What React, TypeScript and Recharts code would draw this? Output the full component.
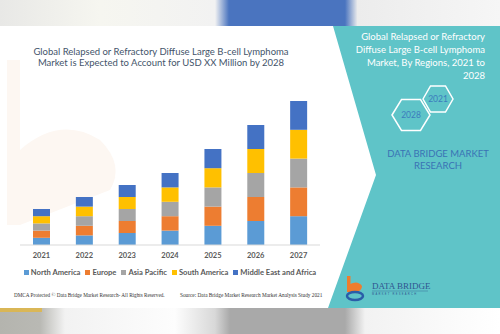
import { BarChart, Bar, XAxis, YAxis, Legend } from 'recharts'

const YEARS = ['2021', '2022', '2023', '2024', '2025', '2026', '2027']
const NORTH_AMERICA = [3, 4, 5, 6, 8, 10, 12]
const EUROPE = [3, 4, 5, 6, 8, 10, 12]
const ASIA_PACIFIC = [3, 4, 5, 6, 8, 10, 12]
const SOUTH_AMERICA = [3, 4, 5, 6, 8, 10, 12]
const MEA = [3, 4, 5, 6, 8, 10, 12]

const SERIES = [
  { key: 'na', name: 'North America', color: '#5b9bd5', values: NORTH_AMERICA },
  { key: 'eu', name: 'Europe', color: '#ed7d31', values: EUROPE },
  { key: 'ap', name: 'Asia Pacific', color: '#a5a5a5', values: ASIA_PACIFIC },
  { key: 'sa', name: 'South America', color: '#ffc000', values: SOUTH_AMERICA },
  { key: 'mea', name: 'Middle East and Africa', color: '#4472c4', values: MEA },
]

const data = YEARS.map((year, i) => {
  const row: Record<string, string | number> = { year }
  SERIES.forEach(s => { row[s.key] = s.values[i] })
  return row
})

const FONT = 'Lato, "Open Sans", sans-serif'

// legend drawn in series order, tight spacing like the original
function LegendContent({ payload }: any) {
  const items = [...(payload || [])].sort(
    (a: any, b: any) => SERIES.findIndex(s => s.name === a.value) - SERIES.findIndex(s => s.name === b.value))
  return (
    <div style={{ display: 'flex', justifyContent: 'center', gap: 5, fontFamily: FONT, fontSize: 7.6, fontWeight: 700,
      color: '#595959', lineHeight: '10px', whiteSpace: 'nowrap' }}>
      {items.map((it: any) => (
        <span key={it.value} style={{ display: 'flex', alignItems: 'center', flexShrink: 0 }}>
          <span style={{ display: 'inline-block', width: 5, height: 5, background: it.color, marginRight: 2 }} />
          {it.value}
        </span>
      ))}
    </div>
  )
}

function Background() {
  return (
    <svg width={500} height={334} style={{ position: 'absolute', left: 0, top: 0 }}>
      <defs>
        <linearGradient id="topband" x1="0" x2="1" y1="0" y2="0">
          <stop offset="0" stopColor="#e8e8e6" />
          <stop offset="0.2" stopColor="#f6f6f0" />
          <stop offset="0.43" stopColor="#f2f2f2" />
          <stop offset="0.458" stopColor="#4a74bf" />
          <stop offset="0.69" stopColor="#4a74bf" />
          <stop offset="0.715" stopColor="#ececec" />
          <stop offset="1" stopColor="#f6f6f6" />
        </linearGradient>
        <linearGradient id="botband" x1="0" x2="1" y1="0" y2="0">
          <stop offset="0" stopColor="#b4b4ae" />
          <stop offset="0.08" stopColor="#b9b9b4" />
          <stop offset="0.13" stopColor="#f2f2f2" />
          <stop offset="0.35" stopColor="#fdfdfd" />
          <stop offset="0.43" stopColor="#d8d8d8" />
          <stop offset="0.46" stopColor="#a9a9a9" />
          <stop offset="0.69" stopColor="#a9a9a9" />
          <stop offset="0.73" stopColor="#f2f2f2" />
          <stop offset="1" stopColor="#ffffff" />
        </linearGradient>
      </defs>
      <rect x={0} y={0} width={500} height={26} fill="url(#topband)" />
      <rect x={0} y={308} width={500} height={26} fill="url(#botband)" />
      <rect x={0} y={308} width={42} height={4} fill="#e2b640" opacity={0.8} />

      {/* faint watermark */}
      <path d="M7 60 L20 60 L20 150 Q60 115 100 140 Q125 165 110 190 L20 225 L7 225 Z" fill="#fdf7f2" />

      {/* teal panel */}
      <polygon points="333,26 500,26 500,308 328,308 376,175" fill="#5fc4c8" />
      <text fontFamily={FONT} fontSize={9.5} fill="#ffffff" textAnchor="end">
        <tspan x={485} y={40}>Global Relapsed or Refractory</tspan>
        <tspan x={485} y={53}>Diffuse Large B-cell Lymphoma</tspan>
        <tspan x={485} y={66}>Market, By Regions, 2021 to</tspan>
        <tspan x={485} y={79}>2028</tspan>
      </text>
      <polygon points="423,99 430.5,86 445.5,86 453,99 445.5,112 430.5,112" fill="none" stroke="#ffffff" strokeWidth={1.5} />
      <polygon points="392,115 401.5,99.5 420.5,99.5 430,115 420.5,130.5 401.5,130.5" fill="none" stroke="#ffffff" strokeWidth={1.5} />
      <text x={438} y={102} textAnchor="middle" fontFamily={FONT} fontSize={8.5} fill="#3c7dbd">2021</text>
      <text x={411} y={118} textAnchor="middle" fontFamily={FONT} fontSize={8.5} fill="#3c7dbd">2028</text>
      <text fontFamily={FONT} fontSize={9.5} fill="#3a73b5" textAnchor="middle">
        <tspan x={438} y={157}>DATA BRIDGE MARKET</tspan>
        <tspan x={438} y={169}>RESEARCH</tspan>
      </text>

      {/* logo */}
      <rect x={347} y={276} width={3.5} height={16} fill="#ee7d2e" />
      <path d="M350 284 Q358 280 362 286 Q362 291 356 292 L350 292 Z" fill="#ee7d2e" />
      <ellipse cx={355} cy={296} rx={8} ry={4} fill="none" stroke="#2a5da8" strokeWidth={2.5} />
      <text x={372} y={289} fontFamily='"Liberation Serif", serif' fontSize={9} fill="#2f5590">DATA BRIDGE</text>
      <line x1={372} y1={291} x2={428} y2={291} stroke="#2f5590" strokeWidth={0.4} />
      <text x={372} y={295} fontFamily='"Liberation Sans", sans-serif' fontSize={2.6} fill="#2f5590" letterSpacing={1.3}>MARKET RESEARCH</text>

      {/* footer notes */}
      <text x={14} y={297} fontFamily='"Liberation Serif", serif' fontSize={5.2} fill="#333">DMCA Protected © Data Bridge Market Research- All Rights Reserved.</text>
      <text x={180} y={297} fontFamily='"Liberation Serif", serif' fontSize={5.3} fill="#333">Source: Data Bridge Market Research Market Analysis Study 2021</text>

      {/* title */}
      <text fontFamily={FONT} fontSize={9.5} fill="#44546a" textAnchor="middle">
        <tspan x={161} y={55}>Global Relapsed or Refractory Diffuse Large B-cell Lymphoma</tspan>
        <tspan x={161} y={66}>Market is Expected to Account for USD XX Million by 2028</tspan>
      </text>
    </svg>
  )
}

export default function App() {
  return (
    <div style={{ position: 'fixed', left: 0, top: 0, width: 500, height: 334, overflow: 'hidden', background: '#fff' }}>
      <Background />
      <div style={{ position: 'absolute', left: 0, top: 0 }}>
        <BarChart width={500} height={334} data={data} margin={{ top: 101, right: 180, left: 20, bottom: 59 }}>
          <XAxis dataKey="year" height={30} tickLine={false} axisLine={{ stroke: '#d9d9d9' }}
            tick={{ fontSize: 7.5, fill: '#595959', fontFamily: FONT, fontWeight: 700 }} />
          <YAxis hide domain={[0, 60]} />
          <Legend layout="horizontal" verticalAlign="middle" align="center"
            wrapperStyle={{ top: 267 }} content={<LegendContent />} />
          {SERIES.map(s => (
            <Bar key={s.key} dataKey={s.key} name={s.name} stackId="a" fill={s.color} barSize={17} isAnimationActive={false} />
          ))}
        </BarChart>
      </div>
    </div>
  )
}
